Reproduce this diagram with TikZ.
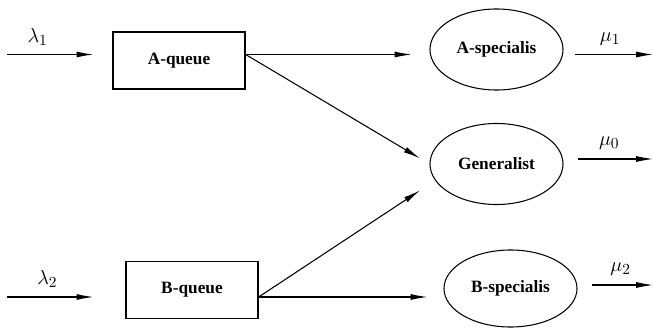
\documentclass[tikz,border=0pt]{standalone}
\usepackage{fontspec}
\setmainfont{Liberation Serif}
\usepackage{amsmath}
\usetikzlibrary{shapes.geometric,arrows.meta}

\begin{document}
\begin{tikzpicture}[x=0.025cm,y=-0.025cm,
  arr/.style={-{Latex[length=4.2mm,width=1.5mm]},line width=0.75pt},
  queue/.style={draw,line width=0.9pt,rectangle,minimum width=3.3cm,minimum height=1.425cm,inner sep=0pt,font=\bfseries\fontsize{12.3}{14}\selectfont},
  server/.style={draw,line width=0.75pt,ellipse,minimum width=3.325cm,minimum height=2.025cm,inner sep=0pt,font=\bfseries\fontsize{12.3}{14}\selectfont},
  rate/.style={above=0.1cm,font=\fontsize{15}{17}\selectfont}]
\useasboundingbox (0,0) rectangle (653,328);

% queues and servers
\node[queue] (aq) at (179,60.5) {A-queue};
\node[queue] (bq) at (192,290) {B-queue};
\node[server] (aspec) at (496.5,49.5) {A-specialis};
\node[server] (gen) at (496.5,164) {Generalist};
\node[server,minimum height=1.925cm] (bspec) at (510.5,288.5) {B-specialis};

% free ends
\coordinate (lin1) at (7,54.5);
\coordinate (lin2) at (7,297);
\coordinate (mout1) at (653,54.5);
\coordinate (mout0) at (653,159);
\coordinate (mout2) at (653,285);

% arrivals
\draw[arr,shorten >=0.475cm] (lin1) -- node[rate,pos=0.29] {$\lambda_1$} (aq.west |- lin1);
\draw[arr,shorten >=0.8cm] (lin2) -- node[rate,pos=0.34] {$\lambda_2$} (bq.west |- lin2);

% routing
\draw[arr,shorten >=0.45cm] (aq.east |- lin1) -- (aspec.west |- lin1);
\draw[arr,shorten >=0.275cm] (aq.east |- lin1) -- (gen.west);
\draw[arr,shorten >=0.45cm] (bq.east |- lin2) -- (gen.195);
\draw[arr,shorten >=0.4cm] (bq.east |- lin2) -- (bspec.west |- lin2);

% departures
\draw[arr,shorten <=0.275cm] (aspec.east |- mout1) -- node[rate,pos=0.52] {$\mu_1$} (mout1);
\draw[arr,shorten <=0.35cm] (gen.east |- mout0) -- node[rate,pos=0.51] {$\mu_0$} (mout0);
\draw[arr,shorten <=0.35cm] (bspec.east |- mout2) -- node[rate,pos=0.57] {$\mu_2$} (mout2);
\end{tikzpicture}
\end{document}
